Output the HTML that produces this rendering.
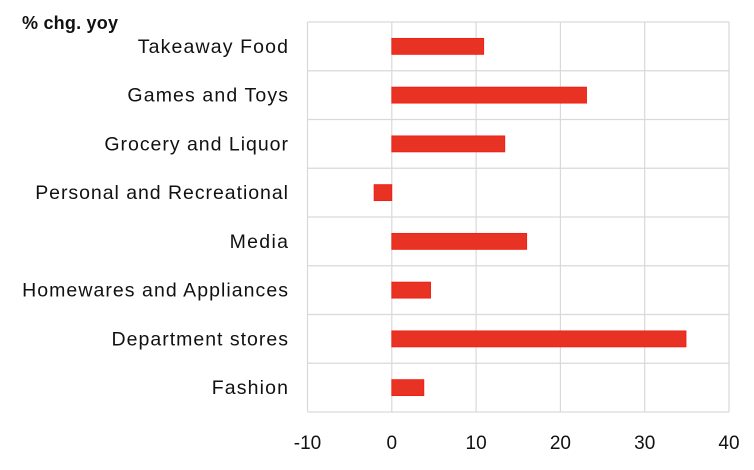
<!DOCTYPE html>
<html><head><meta charset="utf-8"><style>
body{margin:0;background:#fff;}
svg text{font-family:"Liberation Sans",sans-serif;fill:#111;}
</style></head><body>
<svg width="754" height="465" id="chart">
<text x="22" y="29" font-size="18" font-weight="bold" textLength="96">% chg. yoy</text>
</svg>
<script>
const categories=["Takeaway Food","Games and Toys","Grocery and Liquor","Personal and Recreational","Media","Homewares and Appliances","Department stores","Fashion"];
const values=[10.9,23.1,13.4,-2.1,16.0,4.6,34.9,3.8];
const ticks=[-10,0,10,20,30,40];
const svg=document.getElementById('chart');
const NS='http://www.w3.org/2000/svg';
const L=307.5,R=729,T=22,B=412;
const xs=v=>L+(v-ticks[0])/(ticks[ticks.length-1]-ticks[0])*(R-L);
const rh=(B-T)/categories.length;
function mk(t,a){const e=document.createElementNS(NS,t);for(const k in a)e.setAttribute(k,a[k]);svg.appendChild(e);return e;}
for(let i=0;i<=categories.length;i++){const g=mk('line',{x1:L,x2:R,y1:T+i*rh,y2:T+i*rh,stroke:'#d9d9d9','stroke-width':1.2});

}
ticks.forEach(t=>{const g=mk('line',{x1:xs(t),x2:xs(t),y1:T,y2:B,stroke:'#d9d9d9','stroke-width':1.2});


const tx=mk('text',{x:xs(t),y:449,'font-size':19,'text-anchor':'middle'});tx.textContent=t;

});
categories.forEach((c,i)=>{const cy=T+rh*(i+0.5);const v=values[i];
const x0=xs(Math.min(0,v)),x1=xs(Math.max(0,v));
const r=mk('rect',{x:x0,y:cy-8,width:x1-x0,height:16,fill:'#e83223',stroke:'#f01d10','stroke-width':0.8});


const tx=mk('text',{x:288,y:cy+6.5,'font-size':19.5,'text-anchor':'end'});tx.textContent=c;


const w=tx.getComputedTextLength();
tx.setAttribute('textLength',w*1.1);});
</script>
</body></html>
